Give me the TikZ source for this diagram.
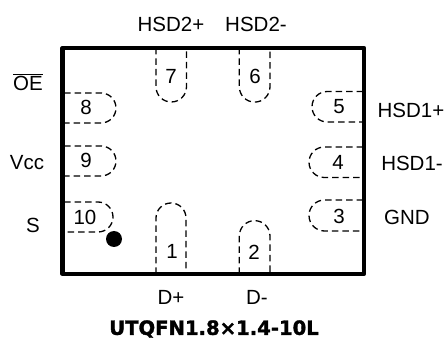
\documentclass[tikz,border=0pt]{standalone}
\usepackage{fontspec}
\setmainfont{Liberation Sans}
\newfontfamily\titlefont[FakeBold=1.6]{DejaVu Sans Bold}
\tikzset{
    pad/.style={black, line width=1.3pt, dash pattern=on 6.5pt off 4pt},
    pinlabel/.style={font=\fontsize{20.5}{24}\selectfont, inner sep=0pt},
    padnum/.style={font=\fontsize{20.5}{24}\selectfont, inner sep=0pt},
    title/.style={font=\titlefont\fontsize{19.6}{24}\selectfont, inner sep=0pt}
}
\begin{document}
\begin{tikzpicture}[x=1pt, y=1pt]
    \useasboundingbox (0,0) rectangle (447,340);

    % パッケージの外形
    \draw[black, line width=4.2pt, line join=round] (62.5,66) rectangle (364,292);

    % 上側のパッド
    \draw[pad] (156,292) -- (156,253.25) arc[start angle=180, end angle=360, radius=15.25] -- (186.5,292);
    \draw[pad] (239.3,292) -- (239.3,253.25) arc[start angle=180, end angle=360, radius=15.35] -- (270,292);

    % 左側のパッド
    \draw[pad] (64,247) -- (101,247) arc[start angle=90, end angle=-90, radius=15] -- (64,217);
    \draw[pad] (64,194) -- (101,194) arc[start angle=90, end angle=-90, radius=15] -- (64,164);
    \draw[pad] (64,138) -- (98,138) arc[start angle=90, end angle=-90, radius=15] -- (64,108);

    % 右側のパッド
    \draw[pad] (363,248.5) -- (327.25,248.5) arc[start angle=90, end angle=270, radius=15.25] -- (363,218);
    \draw[pad] (363,193) -- (324.25,193) arc[start angle=90, end angle=270, radius=15.25] -- (363,162.5);
    \draw[pad] (363,140) -- (324.5,140) arc[start angle=90, end angle=270, radius=15.5] -- (363,109);

    % 下側のパッド
    \draw[pad] (156,66) -- (156,122) arc[start angle=180, end angle=0, radius=15] -- (186,66);
    \draw[pad] (239.3,66) -- (239.3,104) arc[start angle=180, end angle=0, radius=15.35] -- (270,66);

    % 1番ピンの印
    \fill[black] (114,101) circle (8);

    % パッド番号
    \node[padnum] (n7) at (171,264) {7};
    \node[padnum] (n6) at (255,264) {6};
    \node[padnum] (n8) at (86,233) {8};
    \node[padnum] (n9) at (86,180) {9};
    \node[padnum] (n10) at (85,123) {10};
    \node[padnum] (n5) at (339,233) {5};
    \node[padnum] (n4) at (338,178) {4};
    \node[padnum] (n3) at (339,124) {3};
    \node[padnum] (n1) at (172,89) {1};
    \node[padnum] (n2) at (254,88) {2};

    % ピン名
    \node[pinlabel] (hsd2p) at (171,316) {HSD2+};
    \node[pinlabel] (hsd2m) at (256,316) {HSD2-};
    \node[pinlabel] (oe) at (28,258) {$\overline{\mbox{OE}}$};
    \node[pinlabel] (vcc) at (27,177) {Vcc};
    \node[pinlabel] (s) at (33,115) {S};
    \node[pinlabel] (dp) at (171,43) {D+};
    \node[pinlabel] (dm) at (257,43) {D-};
    \node[pinlabel] (hsd1p) at (411,230) {HSD1+};
    \node[pinlabel] (hsd1m) at (412,177) {HSD1-};
    \node[pinlabel] (gnd) at (407,123) {GND};

    \node[title] (pkg) at (214,11) {UTQFN1.8×1.4-10L};
\end{tikzpicture}
\end{document}
